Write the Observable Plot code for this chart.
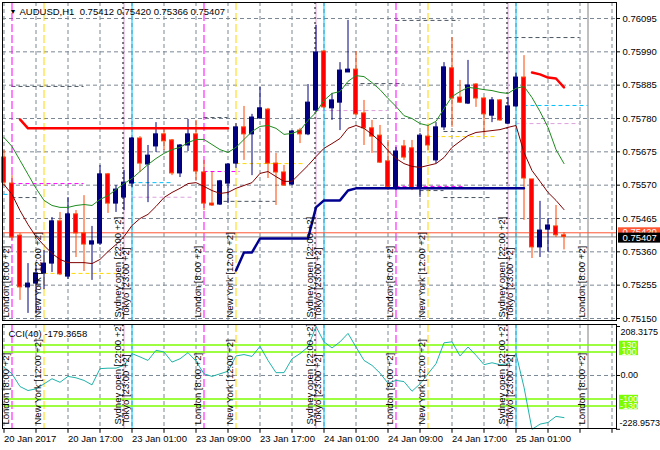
<!DOCTYPE html>
<html><head><meta charset="utf-8">
<script src="https://cdn.jsdelivr.net/npm/d3@7"></script>
<script src="https://cdn.jsdelivr.net/npm/@observablehq/plot@0.6"></script>
<style>
body{margin:0;background:#fff;}
#chart{position:relative;width:660px;height:450px;overflow:hidden;background:#fff;}
#chart svg{position:absolute;left:0;}
</style></head><body><div id="chart"></div>
<script>
// ---------- DATA ----------
const symbol = "AUDUSD,H1";
const timeLabels = ["20 Jan 2017","20 Jan 17:00","23 Jan 01:00","23 Jan 09:00","23 Jan 17:00","24 Jan 01:00","24 Jan 09:00","24 Jan 17:00","25 Jan 01:00"];
const timeLabelIdx = [0,8,16,24,32,40,48,56,64];

const open = [0.75657,0.75575,0.75411,0.75248,0.75260,0.75292,0.75323,0.75456,0.75282,0.75478,0.75418,0.75383,0.75386,0.75604,0.75512,0.75531,0.75575,0.75717,0.75635,0.75692,0.75730,0.75711,0.75607,0.75695,0.75730,0.75610,0.75512,0.75509,0.75575,0.75638,0.75752,0.75730,0.75780,0.75808,0.75638,0.75610,0.75572,0.75742,0.75730,0.75805,0.75991,0.75812,0.75830,0.75925,0.75934,0.75796,0.75749,0.75726,0.75645,0.75563,0.75692,0.75686,0.75563,0.75723,0.75648,0.75752,0.75938,0.75846,0.75827,0.75887,0.75843,0.75789,0.75837,0.75764,0.75818,0.75909,0.75588,0.75374,0.75430,0.75440,0.75412];
const high = [0.75679,0.75600,0.75418,0.75323,0.75317,0.75364,0.75468,0.75484,0.75531,0.75490,0.75537,0.75440,0.75632,0.75607,0.75569,0.75616,0.75720,0.75723,0.75695,0.75767,0.75745,0.75714,0.75698,0.75777,0.75774,0.75648,0.75610,0.75585,0.75638,0.75764,0.75818,0.75793,0.75878,0.75812,0.75670,0.75632,0.75742,0.75749,0.75887,0.76073,0.75994,0.75859,0.75956,0.76089,0.75991,0.75837,0.75774,0.75758,0.75711,0.75689,0.75711,0.75711,0.75733,0.75758,0.75767,0.75956,0.76035,0.75900,0.75963,0.75890,0.75846,0.75846,0.75840,0.75846,0.75922,0.75978,0.75588,0.75519,0.75465,0.75506,0.75420];
const low = [0.75569,0.75396,0.75207,0.75166,0.75166,0.75241,0.75295,0.75285,0.75273,0.75342,0.75298,0.75270,0.75380,0.75481,0.75484,0.75490,0.75563,0.75610,0.75515,0.75673,0.75679,0.75600,0.75594,0.75676,0.75585,0.75490,0.75503,0.75506,0.75512,0.75623,0.75648,0.75600,0.75777,0.75591,0.75506,0.75566,0.75569,0.75701,0.75726,0.75799,0.75812,0.75774,0.75742,0.75925,0.75789,0.75695,0.75670,0.75638,0.75553,0.75553,0.75648,0.75553,0.75531,0.75679,0.75638,0.75742,0.75752,0.75827,0.75824,0.75815,0.75726,0.75767,0.75771,0.75761,0.75815,0.75459,0.75339,0.75342,0.75358,0.75405,0.75366];
const close = [0.75578,0.75405,0.75248,0.75260,0.75292,0.75323,0.75456,0.75289,0.75478,0.75418,0.75383,0.75393,0.75604,0.75512,0.75556,0.75578,0.75717,0.75638,0.75663,0.75730,0.75708,0.75607,0.75695,0.75730,0.75613,0.75512,0.75506,0.75582,0.75635,0.75752,0.75730,0.75783,0.75812,0.75638,0.75610,0.75569,0.75739,0.75730,0.75830,0.75988,0.75815,0.75837,0.75931,0.75934,0.75793,0.75749,0.75723,0.75641,0.75563,0.75676,0.75657,0.75560,0.75726,0.75695,0.75752,0.75941,0.75843,0.75830,0.75884,0.75843,0.75793,0.75837,0.75774,0.75818,0.75909,0.75591,0.75374,0.75427,0.75443,0.75412,0.75407];

const maFast = [0.75720,0.75692,0.75648,0.75604,0.75560,0.75522,0.75506,0.75500,0.75500,0.75506,0.75509,0.75506,0.75525,0.75537,0.75556,0.75575,0.75591,0.75613,0.75635,0.75654,0.75670,0.75682,0.75689,0.75704,0.75714,0.75714,0.75698,0.75682,0.75673,0.75689,0.75714,0.75739,0.75755,0.75758,0.75749,0.75730,0.75733,0.75742,0.75774,0.75799,0.75837,0.75859,0.75865,0.75897,0.75915,0.75912,0.75893,0.75871,0.75843,0.75818,0.75789,0.75780,0.75764,0.75758,0.75771,0.75811,0.75849,0.75865,0.75878,0.75875,0.75871,0.75868,0.75862,0.75859,0.75875,0.75881,0.75846,0.75802,0.75752,0.75682,0.75638];
const maSlow = [0.75572,0.75541,0.75490,0.75446,0.75408,0.75380,0.75355,0.75336,0.75326,0.75326,0.75326,0.75323,0.75336,0.75361,0.75383,0.75408,0.75443,0.75465,0.75478,0.75503,0.75531,0.75547,0.75560,0.75575,0.75578,0.75566,0.75553,0.75544,0.75547,0.75560,0.75569,0.75578,0.75607,0.75613,0.75597,0.75582,0.75582,0.75607,0.75632,0.75660,0.75686,0.75701,0.75717,0.75749,0.75758,0.75749,0.75730,0.75708,0.75679,0.75654,0.75638,0.75629,0.75626,0.75632,0.75638,0.75657,0.75689,0.75708,0.75726,0.75736,0.75739,0.75742,0.75745,0.75752,0.75758,0.75673,0.75616,0.75582,0.75547,0.75522,0.75493];

const stepStart = 29;
const stepLine = [0.75301,0.75358,0.75358,0.75402,0.75402,0.75402,0.75402,0.75402,0.75402,0.75402,0.75500,0.75522,0.75522,0.75522,0.75553,0.75560,0.75560,0.75560,0.75560,0.75560,0.75560,0.75560,0.75560,0.75560,0.75560,0.75560,0.75560,0.75560,0.75560,0.75560,0.75560,0.75560,0.75560,0.75560,0.75560,0.75560,0.75560];
const redLevelStart = 2;
const redLevel = [0.75777,0.75749,0.75749,0.75749,0.75749,0.75749,0.75749,0.75749,0.75749,0.75749,0.75749,0.75749,0.75749,0.75749,0.75749,0.75749,0.75749,0.75749,0.75749,0.75749,0.75749,0.75749,0.75749,0.75749,0.75749,0.75749,0.75749];
const redUpperStart = 66;
const redUpper = [0.75925,0.75919,0.75909,0.75906,0.75878];

const cci = [36,7,-47,-64,-57,-36,-14,-29,-4,-10,-21,-40,29,31,31,43,93,79,64,107,100,57,71,97,61,7,-4,7,18,83,89,81,124,64,12,12,71,93,121,208.3175,143,117,143,179,121,64,43,10,-33,-21,-26,-67,-36,7,50,139,143,83,121,86,46,54,46,50,93,-50,-228.9573,-207,-200,-174,-179.3658];
const cciPeriod = 40;
const cciLevels = [130, 100, -100, -130];

const priceTicks = [0.76095,0.75990,0.75885,0.75780,0.75675,0.75570,0.75465,0.75360,0.75255,0.75150];
const askPrice = 0.75420;

const sessionIdx = [1,5,15,16,25,29,39,40,49,53,63,64,73];
const sessionNames = ["London [8:00 +2]","New York [12:00 +2]","Sydney open [22:00 +2]","Tokyo [23:00 +2]",
  "London [8:00 +2]","New York [12:00 +2]","Sydney open [22:00 +2]","Tokyo [23:00 +2]",
  "London [8:00 +2]","New York [12:00 +2]","Sydney open [22:00 +2]","Tokyo [23:00 +2]","London [8:00 +2]"];
const separatorIdx = [15, 39, 63];

// session range segments [startIdx, endIdx, price]
const segGray = [[1,10,0.75881],[25,28,0.75783],[42,50,0.75890],[49,57,0.76089],[63,72,0.76035],[55,58,0.75739],[1,4.5,0.75531],[55,61,0.75531],[27.5,34,0.75519],[52,55,0.75553]];
const segCyan = [[0,1,0.75541],[16,21,0.75578],[65,73,0.75821]];
const segPlum = [[16,23.5,0.75532],[39,48,0.75805],[64,72,0.75764]];
const segMagenta = [[1,10,0.75575],[25,29.5,0.75613],[49,57.5,0.75566]];
const segGold = [[5,15,0.75292],[29,37.7,0.75638],[53,61.5,0.75723]];

// ---------- LAYOUT / STYLE ----------
const W = 660, ML = 2, MR = 44;
const xDomain = [-0.1875, 76.5625];
const xMax = xDomain[1];
const mainH = 322, mainYDomain = [0.751437, 0.761454];
const ppx = (mainYDomain[1]-mainYDomain[0]) / (mainH - 4);
const font = "Liberation Sans, Arial, sans-serif";
const FS = 9.5;
const gridStyle = {stroke: "#7b8794", strokeDasharray: "4,3", strokeWidth: 1};
const gridIdx = d3.range(0, 77, 4);
const last = close.length - 1;
const bid = close[last];
const colorOf = n => n.startsWith("London") ? "#ff00ff" : n.startsWith("New") ? "#ffd700" : n.startsWith("Sydney") ? "#dda0dd" : "#00bfff";
const dashOf = n => (n.startsWith("London") || n.startsWith("New")) ? "8,3" : null;
const liveSessions = sessionIdx.map((i,k)=>({i, n: sessionNames[k]})).filter(d => d.i <= last);
const futureSessions = sessionIdx.filter(i => i > last);

const bars = open.map((o,i)=>({i, o, h: high[i], l: low[i], c: close[i]}));
const up = bars.filter(d => d.c >= d.o), dn = bars.filter(d => d.c < d.o);
const bodyTop = d => Math.max(d.o, d.c, Math.min(d.o, d.c) + ppx);

function sessionLineMarks() {
  const m = [];
  for (const s of liveSessions) {
    m.push(Plot.ruleX([s.i], {x: d=>d, stroke: colorOf(s.n), strokeDasharray: dashOf(s.n), strokeWidth: 1}));
  }
  m.push(Plot.ruleX(separatorIdx, {x: d=>d, dx: -1, stroke: "black", strokeDasharray: "2,3"}));
  m.push(Plot.ruleX(futureSessions, {x: d=>d, stroke: "#808080", strokeWidth: 1}));
  return m;
}
function sessionLabels(dy) {
  return Plot.text(sessionIdx, {x: d=>d, frameAnchor: "bottom", text: (d,k)=>sessionNames[k], rotate: -90,
    textAnchor: "start", lineAnchor: "middle", dx: -6.5, dy, fontSize: FS, fill: "black"});
}
function segMarks(arr, color) {
  return Plot.ruleY(arr, {y: d=>d[2], x1: d=>d[0], x2: d=>d[1], stroke: color, strokeDasharray: "4,3"});
}

// ---------- MAIN PANEL ----------
const header = `${symbol}  ${open[last].toFixed(5)} ${high[last].toFixed(5)} ${low[last].toFixed(5)} ${close[last].toFixed(5)}`;
const main = Plot.plot({
  width: W, height: mainH, marginLeft: ML, marginRight: MR, marginTop: 2, marginBottom: 2,
  x: {domain: xDomain, axis: null},
  y: {domain: mainYDomain, axis: null},
  style: {fontFamily: font, fontSize: FS + "px", background: "white", overflow: "visible"},
  marks: [
    Plot.ruleY(priceTicks, {y: d=>d, ...gridStyle}),
    Plot.ruleX(gridIdx, {x: d=>d, ...gridStyle}),
    segMarks(segGray, "#4a5460"),
    segMarks(segCyan, "#00bfff"),
    segMarks(segPlum, "#dda0dd"),
    segMarks(segMagenta, "#ff00ff"),
    segMarks(segGold, "#ffd700"),
    ...sessionLineMarks(),
    Plot.ruleY([askPrice], {y: d=>d, stroke: "#ff5533"}),
    Plot.ruleY([bid], {y: d=>d, stroke: "#8a8a8a"}),
    // candles
    Plot.ruleX(up, {x: "i", y1: "l", y2: "h", stroke: "#000080"}),
    Plot.ruleX(dn, {x: "i", y1: "l", y2: "h", stroke: "#ff4500"}),
    Plot.rect(up, {x1: d=>d.i-0.25, x2: d=>d.i+0.25, y1: d=>Math.min(d.o,d.c), y2: bodyTop, fill: "#000080", stroke: "#000080"}),
    Plot.rect(dn, {x1: d=>d.i-0.25, x2: d=>d.i+0.25, y1: d=>Math.min(d.o,d.c), y2: bodyTop, fill: "#ff0000", stroke: "#ff4500"}),
    // indicators
    Plot.line(maFast, {x: (d,i)=>i, y: d=>d, stroke: "#1e8c1e", strokeWidth: 1}),
    Plot.line(maSlow, {x: (d,i)=>i, y: d=>d, stroke: "#800000", strokeWidth: 1}),
    Plot.line(redLevel, {x: (d,i)=>i+redLevelStart, y: d=>d, stroke: "#ff0000", strokeWidth: 2.5}),
    Plot.line(redUpper, {x: (d,i)=>i+redUpperStart, y: d=>d, stroke: "#ff0000", strokeWidth: 2.5}),
    Plot.line(stepLine, {x: (d,i)=>i+stepStart, y: d=>d, stroke: "#000090", strokeWidth: 2.5}),
    sessionLabels(-3),
    // header
    Plot.text(["▼"], {frameAnchor: "top-left", dx: 7, dy: 9, text: d=>d, fontSize: 7, lineAnchor: "middle", fill: "black"}),
    Plot.text([header], {frameAnchor: "top-left", dx: 17, dy: 9, text: d=>d, textAnchor: "start", lineAnchor: "middle", fontSize: FS, fill: "black"}),
    Plot.frame({stroke: "black"}),
    // right price axis
    Plot.ruleY(priceTicks, {y: d=>d, x1: xMax, x2: xMax + 0.5, stroke: "black"}),
    Plot.text(priceTicks, {y: d=>d, frameAnchor: "right", dx: 6, text: d=>d.toFixed(5), textAnchor: "start", lineAnchor: "middle", fontSize: FS, fill: "black"}),
    Plot.rect([askPrice], {x1: xMax+0.25, x2: xMax+5.5, y1: d=>d-5*ppx, y2: d=>d+5*ppx, fill: "#ff5533"}),
    Plot.text([askPrice], {x: xMax+0.25, y: d=>d, dx: 4, dy: -1, text: d=>d.toFixed(5), textAnchor: "start", lineAnchor: "middle", fill: "white", fontSize: FS}),
    Plot.rect([bid], {x1: xMax+0.25, x2: xMax+5.5, y1: d=>d-6.2*ppx, y2: d=>d+3.8*ppx, fill: "black"}),
    Plot.text([bid], {x: xMax+0.25, y: d=>d-1.2*ppx, dx: 4, text: d=>d.toFixed(5), textAnchor: "start", lineAnchor: "middle", fill: "white", fontSize: FS})
  ]
});
main.style.top = "0px";

// ---------- CCI PANEL ----------
const cciH = 128;
const cciDomain = d3.extent(cci);
const cciRange = [106.8, 4];
const upx = (cciDomain[1]-cciDomain[0]) / (cciRange[0]-cciRange[1]);
const levelsDrawOrder = [100, -130, 130, -100].filter(v => cciLevels.includes(v));
const SFS = 9;
const cciPanel = Plot.plot({
  width: W, height: cciH, marginLeft: ML, marginRight: MR, marginTop: 2, marginBottom: 22,
  x: {domain: xDomain, axis: null},
  y: {domain: cciDomain, range: cciRange, axis: null},
  style: {fontFamily: font, fontSize: FS + "px", background: "transparent", overflow: "visible"},
  marks: [
    Plot.ruleX(gridIdx, {x: d=>d, ...gridStyle}),
    Plot.ruleY([0], {y: d=>d, ...gridStyle}),
    ...sessionLineMarks(),
    Plot.ruleY(cciLevels, {y: d=>d, stroke: "#7cfc00", strokeWidth: 1.5}),
    Plot.line(cci, {x: (d,i)=>i, y: d=>d, stroke: "#20b2aa", strokeWidth: 1}),
    sessionLabels(-4),
    Plot.text([`CCI(${cciPeriod}) ${cci[last].toFixed(4)}`], {frameAnchor: "top-left", dx: 6, dy: 9.5, text: d=>d, textAnchor: "start", lineAnchor: "middle", fontSize: FS, fill: "black"}),
    Plot.frame({stroke: "black"}),
    // right scale labels
    Plot.ruleY([cciDomain[1], 0, cciDomain[0]], {y: d=>d, x1: xMax, x2: xMax+0.5, stroke: "black"}),
    Plot.text([cciDomain[1]], {y: d=>d, frameAnchor: "right", dx: 4, dy: 6, text: d=>d.toFixed(4), textAnchor: "start", lineAnchor: "middle", fontSize: SFS, fill: "black"}),
    Plot.text([0], {y: d=>d, frameAnchor: "right", dx: 4, text: d=>d.toFixed(2), textAnchor: "start", lineAnchor: "middle", fontSize: SFS, fill: "black"}),
    Plot.text([cciDomain[0]], {y: d=>d, frameAnchor: "right", dx: 3, dy: -6, text: d=>d.toFixed(4), textAnchor: "start", lineAnchor: "middle", fontSize: SFS, fill: "black"}),
    ...levelsDrawOrder.flatMap(v => [
      Plot.rect([v], {x1: xMax+0.375, x2: xMax+2.75, y1: d=>d-3.7*upx, y2: d=>d+3.7*upx, fill: "#7cfc00"}),
      Plot.text([v], {x: xMax+1.5625, y: d=>d, text: d=>String(d), textAnchor: "middle", lineAnchor: "middle", fill: "white", fontSize: 9})
    ]),
    // time axis
    Plot.ruleX(gridIdx, {x: d=>d, y1: cciDomain[0], y2: cciDomain[0]-4*upx, stroke: "black"}),
    Plot.text(timeLabelIdx, {x: d=>d, frameAnchor: "bottom", dy: 7, text: (d,k)=>timeLabels[k], textAnchor: "start", lineAnchor: "top", fontSize: FS, fill: "black"})
  ]
});
cciPanel.style.top = "322px";

const root = document.getElementById("chart");
root.appendChild(main);
root.appendChild(cciPanel);
</script></body></html>
